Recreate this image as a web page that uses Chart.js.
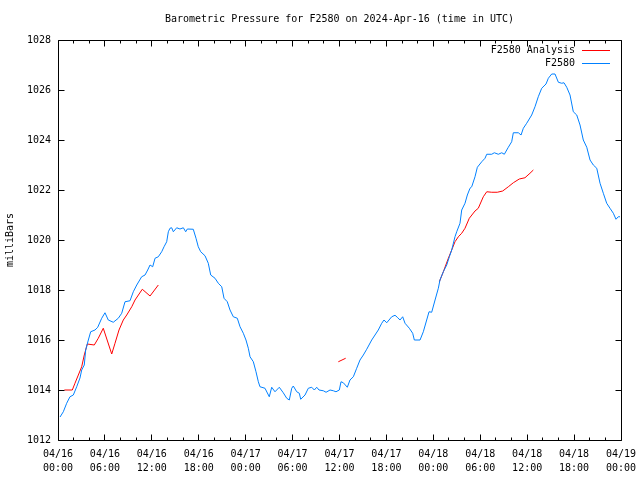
<!DOCTYPE html>
<html>
<head>
<meta charset="utf-8">
<script src="https://cdn.jsdelivr.net/npm/chart.js@4.4.1/dist/chart.umd.min.js"></script>
<style>
html,body{margin:0;padding:0;background:#fff;}
canvas{display:block;}
</style>
</head>
<body>
<canvas id="c" width="640" height="480"></canvas>
<script>
// ---- Data (time = hours since 2024-04-16 00:00 UTC, pressure in milliBars) ----
const titleText = 'Barometric Pressure for F2580 on 2024-Apr-16 (time in UTC)';
const yAxisTitle = 'milliBars';
const seriesNames = ['F2580 Analysis', 'F2580'];

const tickDates = ['04/16','04/16','04/16','04/16','04/17','04/17','04/17','04/17','04/18','04/18','04/18','04/18','04/19'];
const tickTimes = ['00:00','06:00','12:00','18:00','00:00','06:00','12:00','18:00','00:00','06:00','12:00','18:00','00:00'];

const stationHours = [
0.26,0.68,1.11,1.53,1.96,2.39,2.81,3.03,3.36,3.54,3.88,4.18,4.73,5.08,5.59,6.01,6.43,7.07,7.71,8.15,
8.57,9.21,9.63,10.07,10.70,11.13,11.47,11.77,12.11,12.41,12.83,13.26,13.56,13.90,14.11,14.32,14.54,14.75,15.18,15.60,
16.03,16.33,16.54,17.30,17.65,17.94,18.25,18.80,19.22,19.53,20.08,20.50,20.94,21.23,21.65,22.00,22.42,22.93,23.28,23.70,
24.04,24.34,24.56,24.98,25.32,25.62,25.83,26.47,27.02,27.33,27.75,28.30,28.81,29.25,29.58,29.89,30.09,30.53,30.86,31.04,
31.59,32.01,32.45,32.78,33.09,33.38,33.93,34.28,34.79,35.21,35.55,35.98,36.19,36.49,37.00,37.34,37.77,38.20,38.62,39.05,
39.48,40.12,40.54,40.96,41.40,41.69,42.04,42.68,43.10,43.39,43.74,44.08,44.38,44.93,45.36,45.57,46.30,46.72,47.15,47.45,
47.79,48.22,48.64,48.85,49.28,49.71,50.05,50.35,50.77,50.99,51.41,51.63,52.05,52.35,52.69,52.91,53.33,53.63,54.19,54.61,
54.83,55.47,55.80,56.31,56.75,57.08,57.59,58.02,58.23,58.87,59.22,59.51,59.94,60.58,61.00,61.42,61.86,62.41,62.71,63.14,
63.56,63.99,64.42,64.71,65.06,65.48,65.90,66.34,66.76,67.18,67.62,68.04,68.46,68.90,69.32,69.74,70.17,70.59,71.02,71.36,
71.65,71.87];
const stationPressure = [
1012.92,1013.13,1013.47,1013.73,1013.80,1014.13,1014.48,1014.80,1015.00,1015.60,1016.00,1016.33,1016.40,1016.51,1016.87,1017.09,1016.80,1016.71,1016.87,1017.07,
1017.53,1017.57,1017.93,1018.20,1018.53,1018.60,1018.80,1019.00,1018.93,1019.27,1019.33,1019.53,1019.73,1019.93,1020.33,1020.47,1020.49,1020.33,1020.49,1020.44,
1020.49,1020.33,1020.44,1020.43,1020.07,1019.73,1019.53,1019.37,1019.07,1018.60,1018.47,1018.27,1018.13,1017.67,1017.53,1017.20,1016.93,1016.87,1016.53,1016.27,
1016.00,1015.67,1015.33,1015.13,1014.73,1014.33,1014.13,1014.07,1013.73,1014.11,1013.93,1014.11,1013.89,1013.67,1013.60,1014.07,1014.16,1013.93,1013.87,1013.63,
1013.80,1014.07,1014.11,1014.00,1014.11,1014.00,1013.97,1013.91,1014.00,1013.97,1013.93,1014.00,1014.33,1014.29,1014.11,1014.40,1014.53,1014.87,1015.20,1015.40,
1015.63,1016.00,1016.20,1016.40,1016.67,1016.80,1016.69,1016.93,1016.99,1016.91,1016.80,1016.93,1016.67,1016.47,1016.27,1016.00,1016.00,1016.33,1016.80,1017.13,
1017.11,1017.60,1018.07,1018.40,1018.73,1019.00,1019.33,1019.60,1020.13,1020.33,1020.67,1021.20,1021.47,1021.80,1022.07,1022.13,1022.53,1022.91,1023.13,1023.27,
1023.43,1023.43,1023.49,1023.43,1023.49,1023.43,1023.71,1023.93,1024.29,1024.29,1024.20,1024.47,1024.67,1025.00,1025.33,1025.73,1026.07,1026.24,1026.47,1026.64,
1026.64,1026.31,1026.27,1026.29,1026.11,1025.80,1025.13,1025.00,1024.60,1024.00,1023.71,1023.20,1023.00,1022.87,1022.27,1021.87,1021.47,1021.27,1021.07,1020.83,
1020.93,1020.93];

// Analysis series; null marks a gap in the record
const analysisHours = [
0.81,1.83,2.17,2.60,3.03,3.36,3.75,4.64,5.15,5.79,6.87,7.29,7.80,8.35,8.79,9.43,9.85,10.78,11.77,12.83,
24.0,
35.85,36.79,
42.0,
48.77,49.28,49.92,50.35,50.77,51.20,51.63,52.05,52.60,53.33,53.75,54.39,54.83,55.47,56.18,56.87,57.59,58.23,58.99,59.72,60.36,60.79];
const analysisPressure = [
1014.00,1014.00,1014.27,1014.60,1014.93,1015.40,1015.84,1015.80,1016.07,1016.47,1015.44,1015.87,1016.40,1016.80,1017.00,1017.33,1017.60,1018.03,1017.76,1018.20,
null,
1015.13,1015.27,
null,
1018.33,1018.73,1019.27,1019.60,1019.93,1020.13,1020.27,1020.47,1020.87,1021.16,1021.27,1021.73,1021.93,1021.91,1021.91,1021.96,1022.13,1022.29,1022.44,1022.49,1022.67,1022.80];

const colors = ['#ff0000', '#0080ff'];
const FONT = '"DejaVu Sans Mono", "Liberation Mono", monospace';

const toXY = (xs, ys) => xs.map((t, i) => ({x: t, y: ys[i]}));

const framePlugin = {
  id: 'frame',
  afterDraw(chart) {
    const {ctx, chartArea: a, scales} = chart;
    const xs = scales.x, ys = scales.y;
    const L = Math.floor(a.left) + 0.5, R = Math.floor(a.right) + 0.5;
    const T = Math.floor(a.top) + 0.5, B = Math.floor(a.bottom) + 0.5;
    ctx.save();
    ctx.strokeStyle = '#000';
    ctx.lineWidth = 1;
    ctx.beginPath();
    ctx.rect(L, T, R - L, B - T);
    // x ticks (major every 6 h, minor every 2 h), inward, bottom and top
    for (let h = xs.min; h <= xs.max; h += 2) {
      const px = Math.floor(xs.getPixelForValue(h)) + 0.5;
      const len = (h % 6 === 0) ? 6 : 3;
      ctx.moveTo(px, B); ctx.lineTo(px, B - len);
      ctx.moveTo(px, T); ctx.lineTo(px, T + len);
    }
    ys.ticks.forEach(tk => {
      const py = Math.floor(ys.getPixelForValue(tk.value)) + 0.5;
      ctx.moveTo(L, py); ctx.lineTo(L + 6, py);
      ctx.moveTo(R, py); ctx.lineTo(R - 6, py);
    });
    ctx.stroke();

    ctx.fillStyle = '#000';
    ctx.font = '10px ' + FONT;
    ctx.textBaseline = 'middle';
    // title
    ctx.textAlign = 'center';
    ctx.fillText(titleText, (a.left + a.right) / 2, 19);
    // y axis title
    ctx.save();
    ctx.translate(10, (a.top + a.bottom) / 2);
    ctx.rotate(-Math.PI / 2);
    ctx.fillText(yAxisTitle, 0, 0);
    ctx.restore();
    // legend (text right-aligned, sample line after)
    ctx.textAlign = 'right';
    chart.data.datasets.forEach((ds, i) => {
      const yy = 50 + i * 13;
      ctx.fillStyle = '#000';
      ctx.fillText(ds.label, 575, yy);
      ctx.strokeStyle = ds.borderColor;
      ctx.beginPath();
      ctx.moveTo(582, Math.floor(yy) + 0.5);
      ctx.lineTo(610, Math.floor(yy) + 0.5);
      ctx.stroke();
    });
    ctx.restore();
  }
};

new Chart(document.getElementById('c'), {
  type: 'line',
  data: {
    datasets: [
      {
        label: seriesNames[0],
        data: toXY(analysisHours, analysisPressure),
        borderColor: colors[0],
        borderWidth: 1,
        pointRadius: 0,
        tension: 0,
        spanGaps: false,
        fill: false,
        order: 1
      },
      {
        label: seriesNames[1],
        data: toXY(stationHours, stationPressure),
        borderColor: colors[1],
        borderWidth: 1,
        pointRadius: 0,
        tension: 0,
        fill: false,
        order: 0
      }
    ]
  },
  options: {
    responsive: false,
    animation: false,
    devicePixelRatio: 1,
    layout: {padding: {top: 40, right: 19, bottom: 0, left: 0}},
    plugins: {legend: {display: false}, tooltip: {enabled: false}, title: {display: false}},
    scales: {
      x: {
        type: 'linear',
        min: 0, max: 72,
        afterFit: s => { s.height = 40; s.paddingLeft = 0; s.paddingRight = 0; },
        grid: {display: false, drawTicks: false},
        border: {display: false},
        ticks: {
          stepSize: 6,
          autoSkip: false,
          maxRotation: 0,
          padding: 7,
          color: '#000',
          font: {family: FONT, size: 10, lineHeight: 1.4},
          callback: v => [tickDates[Math.round(v / 6)], tickTimes[Math.round(v / 6)]]
        }
      },
      y: {
        min: 1012, max: 1028,
        afterFit: s => { s.width = 58; s.paddingTop = 0; s.paddingBottom = 0; },
        grid: {display: false, drawTicks: false},
        border: {display: false},
        ticks: {
          stepSize: 2,
          padding: 7,
          color: '#000',
          font: {family: FONT, size: 10},
          callback: v => String(v)
        }
      }
    }
  },
  plugins: [framePlugin]
});
</script>
</body>
</html>
